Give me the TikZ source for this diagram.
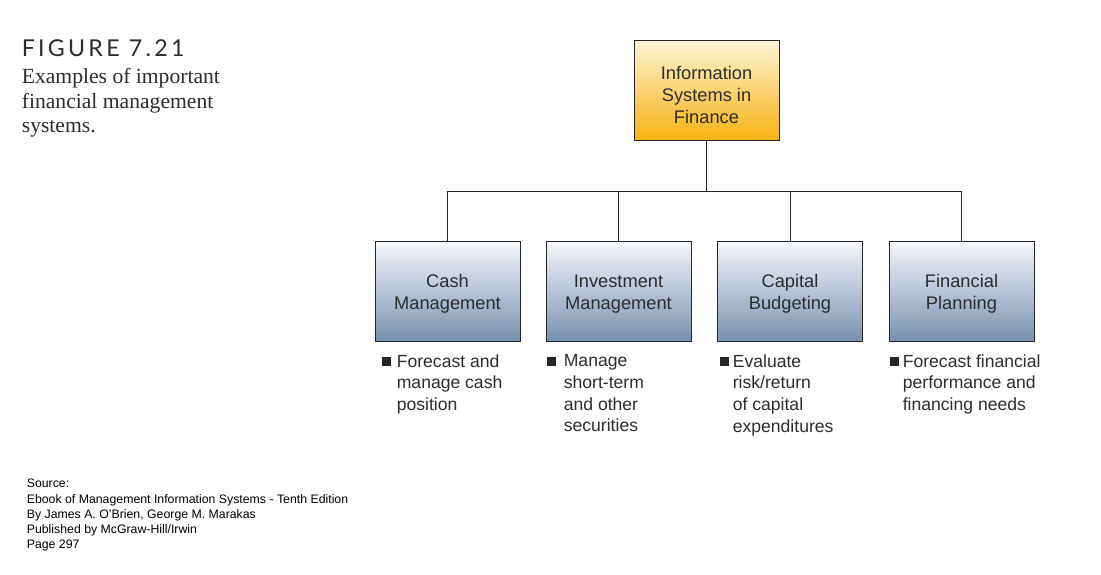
\documentclass[tikz,border=0pt]{standalone}
\usepackage{fontspec}
\setmainfont{Liberation Serif}
\setsansfont{Liberation Sans}
\newfontfamily\figfont{Lato}
\usetikzlibrary{positioning}
\definecolor{goldtop}{RGB}{254,245,215}
\definecolor{goldbot}{RGB}{247,178,18}
\definecolor{slatetop}{RGB}{245,247,251}
\definecolor{slatebot}{RGB}{122,144,176}
\definecolor{inkgray}{RGB}{45,45,45}

\begin{document}
\begin{tikzpicture}[thin,
    box/.style={draw=black!85, minimum width=2.9cm, minimum height=2cm, align=center,
                font=\sffamily\fontsize{10.4}{12.4}\selectfont, text=inkgray,
                execute at begin node={\rule{0pt}{#1}}},
    box/.default=22.7pt,
    headbox/.style={box=38pt, top color=goldtop, bottom color=goldbot},
    subbox/.style={box, top color=slatetop, bottom color=slatebot},
    item/.style={anchor=north west, inner sep=0pt, align=left,
                 font=\sffamily\fontsize{10}{12.4}\selectfont, text=inkgray},
    bullet/.style={fill=black!85, inner sep=0pt, minimum size=0.18cm},
    link/.style={black!85}]
    \fill[white] (0,0) rectangle (22.02,-11.48);
    \node[anchor=base west, inner sep=0pt, text=inkgray,
          font=\figfont\fontsize{13.2}{14}\selectfont\addfontfeature{LetterSpace=14}] (fig) at (0.43,-1.12) {FIGURE 7.21};
    \node[anchor=north west, inner sep=0pt, align=left, text=inkgray,
          font=\fontsize{12.3}{14}\selectfont] (caption) at (0.43,-1.36) {Examples of important\\financial management\\systems.};
    \node[anchor=north west, inner sep=0pt, align=left,
          font=\sffamily\fontsize{7}{8.65}\selectfont] (src) at (0.53,-9.58)
          {Source:\\Ebook of Management Information Systems - Tenth Edition\\By James A. O'Brien, George M. Marakas\\Published by McGraw-Hill/Irwin\\Page 297};
    \node[headbox] (isf) at (14.13,-1.8) {Information\\Systems in\\Finance};
    \node[subbox] (cash) at (8.95,-5.82) {Cash\\Management};
    \node[subbox] (inv) at (12.37,-5.82) {Investment\\Management};
    \node[subbox] (cap) at (15.8,-5.82) {Capital\\Budgeting};
    \node[subbox] (plan) at (19.23,-5.82) {Financial\\Planning};
    \coordinate (bus) at (14.13,-3.82);
    \draw[link] (isf.south) -- (bus);
    \draw[link] (bus) -| (cash.north);
    \draw[link] (bus) -| (inv.north);
    \draw[link] (bus) -| (cap.north);
    \draw[link] (bus) -| (plan.north);
    \node[bullet] (b1) at (7.73,-7.23) {};
    \node[bullet] (b2) at (11.02,-7.23) {};
    \node[bullet] (b3) at (14.49,-7.23) {};
    \node[bullet] (b4) at (17.88,-7.23) {};
    \node[item] (i1) at (7.93,-7.08) {Forecast and\\manage cash\\position};
    \node[item] (i2) at (11.27,-7.08) {Manage\\short-term\\and other\\securities};
    \node[item] (i3) at (14.65,-7.08) {Evaluate\\risk/return\\of capital\\expenditures};
    \node[item] (i4) at (18.05,-7.08) {Forecast financial\\performance and\\financing needs};
  \end{tikzpicture}
\end{document}
